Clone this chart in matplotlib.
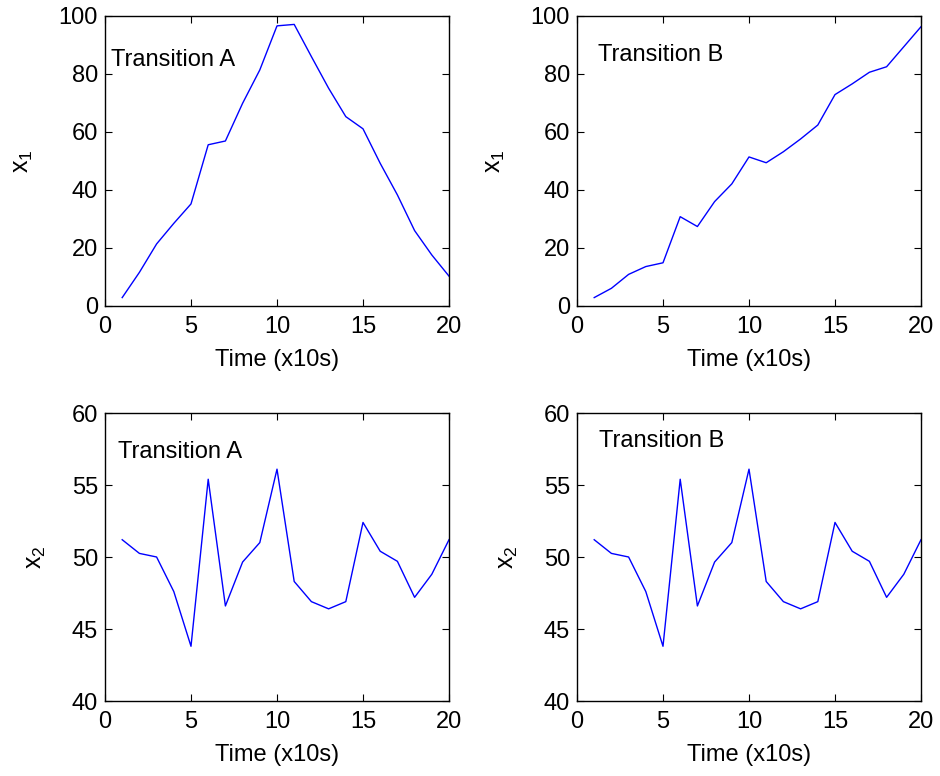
import numpy as np
import matplotlib
matplotlib.use('Agg')
import matplotlib.pyplot as plt

plt.rcParams['font.family'] = ['Liberation Sans', 'DejaVu Sans']
plt.rcParams['mathtext.fontset'] = 'custom'
plt.rcParams['mathtext.rm'] = 'Liberation Sans'
plt.rcParams['mathtext.it'] = 'Liberation Sans'

# time steps (x10 s)
t = np.arange(1, 21)

# state x1 for the two transitions
x1_a = [2.9, 11.6, 21.4, 28.5, 35.2, 55.6, 56.9, 69.9, 81.4, 96.6,
        97.1, 86.0, 75.1, 65.3, 61.1, 49.2, 38.3, 26.0, 17.6, 10.3]
x1_b = [2.9, 6.1, 10.9, 13.6, 14.9, 30.8, 27.4, 36.0, 42.1, 51.4,
        49.4, 53.2, 57.6, 62.4, 72.9, 76.6, 80.6, 82.5, 89.4, 96.3]

# state x2 (same for both transitions)
x2_a = [51.2, 50.25, 50.0, 47.6, 43.8, 55.4, 46.6, 49.65, 51.0, 56.1,
        48.3, 46.9, 46.4, 46.9, 52.4, 50.4, 49.7, 47.2, 48.8, 51.2]
x2_b = list(x2_a)

fig = plt.figure(figsize=(9.4, 7.76), dpi=100)
W, H = 940, 776
FS = 17


def make_axes(left, top, right, bottom):
    return fig.add_axes([left / W, 1 - bottom / H, (right - left) / W, (bottom - top) / H])


panels = [
    (make_axes(105, 16, 449, 306), x1_a, (0, 100), np.arange(0, 101, 20), 'x$_1$', 'Transition A', (0.35, 84.8)),
    (make_axes(577, 16, 921, 306), x1_b, (0, 100), np.arange(0, 101, 20), 'x$_1$', 'Transition B', (1.2, 86.5)),
    (make_axes(105, 413, 449, 701), x2_a, (40, 60), np.arange(40, 61, 5), 'x$_2$', 'Transition A', (0.75, 57.3)),
    (make_axes(577, 413, 921, 701), x2_b, (40, 60), np.arange(40, 61, 5), 'x$_2$', 'Transition B', (1.3, 58.05)),
]

for ax, y, ylim, yticks, ylab, title, pos in panels:
    ax.plot(t, y, color='#0000ff', linewidth=1.0)
    ax.set_xlim(0, 20)
    ax.set_ylim(*ylim)
    ax.set_xticks([0, 5, 10, 15, 20])
    ax.set_yticks(yticks)
    ax.tick_params(direction='in', top=True, right=True, labelsize=FS, length=5)
    ax.tick_params(axis='x', pad=7)
    ax.tick_params(axis='y', pad=5)
    ax.set_xlabel('Time (x10s)', fontsize=FS, labelpad=8)
    ax.set_ylabel(ylab, fontsize=FS + 1, labelpad=17)
    ax.text(pos[0], pos[1], title, fontsize=FS, va='center', ha='left')
    for s in ax.spines.values():
        s.set_linewidth(1.0)

fig.savefig('out.png', dpi=100)
